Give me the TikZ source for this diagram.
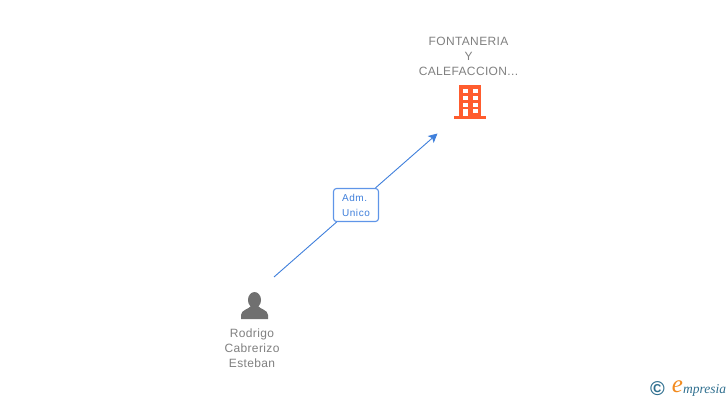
\documentclass[tikz,border=0pt]{standalone}
\usepackage{fontspec}
\setmainfont{Liberation Sans}
\newfontfamily\logofont{Liberation Serif}
\usetikzlibrary{arrows.meta}
\definecolor{labelgray}{HTML}{808080}
\definecolor{icongray}{HTML}{707070}
\definecolor{iconorange}{HTML}{FF5C2E}
\definecolor{linkblue}{HTML}{3F7FDB}
\definecolor{boxblue}{HTML}{5F95E8}
\definecolor{logoteal}{HTML}{2F6F8F}
\definecolor{logoorange}{HTML}{F28A1E}
\tikzset{
  namelabel/.style={text=labelgray,align=center,inner sep=0pt,
    font=\addfontfeatures{LetterSpace=3}\fontsize{12}{15}\selectfont},
  rolebox/.style={draw=boxblue,fill=white,line width=1.1pt,rounded corners=3pt,minimum width=45pt,
    minimum height=33pt,inner sep=0pt,text=linkblue,align=left,
    font=\addfontfeatures{LetterSpace=6}\fontsize{10}{15}\selectfont},
  link/.style={linkblue,line width=.9pt}
}
\begin{document}
\begin{tikzpicture}[x=1pt,y=1pt]
\useasboundingbox (0,0) rectangle (728,400);
% name labels
\node[namelabel] (orgname) at (468.5,344) {FONTANERIA\\Y\\CALEFACCION...};
\node[namelabel] (personname) at (252,52) {Rodrigo\\Cabrerizo\\Esteban};
% building
\fill[iconorange] (459,315) rectangle (481,283);
\fill[iconorange] (454,284) rectangle (486,281);
\foreach \y in {307,300,293} {
 \fill[white] (463,\y) rectangle ++(5,4);
 \fill[white] (473,\y) rectangle ++(5,4);
}
\fill[white] (463,284) rectangle ++(5,7);
\fill[white] (473,287) rectangle ++(5,4);
% person
\fill[icongray] (254.5,100) ellipse (6.5 and 8);
\fill[icongray] (241,81) -- (241,85) .. controls (241,90) and (249,91) .. (251,94)
  -- (258,94) .. controls (260,91) and (268,90) .. (268,85) -- (268,81) -- cycle;
% connector
\coordinate (from) at (274,123);
\coordinate (to) at (437.5,266.5);
\node[rolebox] (role) at (356,195) {Adm.\\Unico};
\draw[link] (from) -- (role);
\draw[link,-{Stealth[length=9pt,width=9pt,inset=2pt]}] (role) -- (to);
% logo
\node[text=logoteal,inner sep=0pt,font=\bfseries\fontsize{20}{20}\selectfont] (copy) at (657.5,11) {©};
\node[text=logoorange,inner sep=0pt,font=\logofont\itshape\fontsize{25}{25}\selectfont] (logoe) at (677.5,13) {e};
\node[text=logoteal,inner sep=0pt,anchor=base west,font=\logofont\itshape\fontsize{13.5}{14}\selectfont] (logotext) at (683,7) {mpresia};
\end{tikzpicture}
\end{document}
